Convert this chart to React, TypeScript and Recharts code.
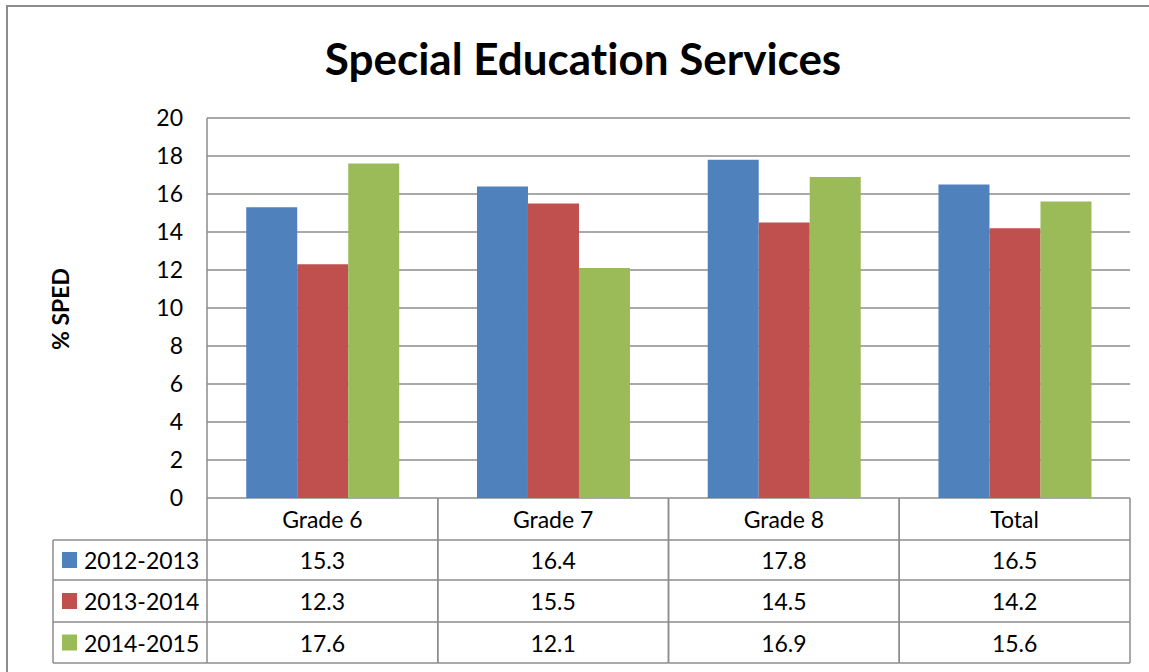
import { Bar, BarChart, CartesianGrid, XAxis, YAxis } from "recharts";

const categories = ["Grade 6", "Grade 7", "Grade 8", "Total"];
const seriesNames = ["2012-2013", "2013-2014", "2014-2015"];
const values2012 = [15.3, 16.4, 17.8, 16.5];
const values2013 = [12.3, 15.5, 14.5, 14.2];
const values2014 = [17.6, 12.1, 16.9, 15.6];
const yTicks = [0, 2, 4, 6, 8, 10, 12, 14, 16, 18, 20];

const colors = ["#4F81BD", "#C0504D", "#9BBB59"];
const seriesValues = [values2012, values2013, values2014];

const data = categories.map((c, i) => ({
  name: c,
  s0: values2012[i],
  s1: values2013[i],
  s2: values2014[i],
}));

const W = 1149;
const H = 672;
const M = { top: 118, right: 19, left: 57, bottom: 0 };
const Y_WIDTH = 150;
const PLOT_LEFT = M.left + Y_WIDTH;
const BAND = (W - M.right - PLOT_LEFT) / categories.length;
const TABLE_TOP = 498;
const ROW_LINES = [540, 580, 622, 663];
const LEGEND_LEFT = 53;
const FONT = "Lato, 'Open Sans', sans-serif";
const LINE = "#8c8c8c";
const FS = 23;

function TableTick(props: any) {
  const { x, payload, index } = props;
  const left = x - BAND / 2;
  const right = x + BAND / 2;
  const rowsMid = [
    (TABLE_TOP + ROW_LINES[0]) / 2,
    (ROW_LINES[0] + ROW_LINES[1]) / 2,
    (ROW_LINES[1] + ROW_LINES[2]) / 2,
    (ROW_LINES[2] + ROW_LINES[3]) / 2,
  ];
  return (
    <g>
      <line x1={left} x2={left} y1={TABLE_TOP} y2={ROW_LINES[3]} stroke={LINE} strokeWidth={1.5} />
      <line x1={right} x2={right} y1={TABLE_TOP} y2={ROW_LINES[3]} stroke={LINE} strokeWidth={1.5} />
      {ROW_LINES.map((ly) => (
        <line key={ly} x1={left} x2={right} y1={ly} y2={ly} stroke={LINE} strokeWidth={1.5} />
      ))}
      <text x={x} y={rowsMid[0]} textAnchor="middle" dominantBaseline="central" fontSize={FS} fontFamily={FONT} fill="#000">
        {payload.value}
      </text>
      {seriesValues.map((vals, si) => (
        <text key={si} x={x} y={rowsMid[si + 1]} textAnchor="middle" dominantBaseline="central" fontSize={FS} fontFamily={FONT} fill="#000">
          {vals[index].toFixed(1)}
        </text>
      ))}
      {index === 0 && (
        <g>
          <line x1={LEGEND_LEFT} x2={LEGEND_LEFT} y1={ROW_LINES[0]} y2={ROW_LINES[3]} stroke={LINE} strokeWidth={1.5} />
          {ROW_LINES.map((ly) => (
            <line key={ly} x1={LEGEND_LEFT} x2={left} y1={ly} y2={ly} stroke={LINE} strokeWidth={1.5} />
          ))}
          {seriesNames.map((n, si) => (
            <g key={n}>
              <rect x={62} y={rowsMid[si + 1] - 8} width={15} height={16} fill={colors[si]} />
              <text x={84} y={rowsMid[si + 1]} dominantBaseline="central" fontSize={FS} fontFamily={FONT} fill="#000">
                {n}
              </text>
            </g>
          ))}
        </g>
      )}
    </g>
  );
}

export default function App() {
  return (
    <div style={{ position: "absolute", left: 0, top: 0, width: W, height: H, overflow: "hidden", background: "#fff" }}>
      <div
        style={{
          position: "absolute",
          left: 6,
          top: 5,
          width: 1200,
          height: 700,
          border: "2px solid #8c8c8c",
        }}
      />
      <div
        style={{
          position: "absolute",
          left: 0,
          width: 1166,
          top: 30,
          textAlign: "center",
          fontFamily: FONT,
          fontWeight: 700,
          fontSize: 44,
          lineHeight: "56px",
          fontVariantLigatures: "none",
          color: "#000",
        }}
      >
        Special Education Services
      </div>
      <div
        style={{
          position: "absolute",
          left: 60,
          top: 309,
          transform: "translate(-50%, -50%) rotate(-90deg)",
          fontFamily: FONT,
          fontWeight: 700,
          fontSize: 23,
          whiteSpace: "nowrap",
          color: "#000",
        }}
      >
        % SPED
      </div>
      <div style={{ position: "absolute", left: 0, top: 0 }}>
        <BarChart width={W} height={H} data={data} margin={M} barCategoryGap="17%" barGap={0}>
          <CartesianGrid horizontal vertical={false} stroke={LINE} strokeWidth={1.5} />
          <YAxis
            width={Y_WIDTH}
            domain={[0, 20]}
            ticks={yTicks}
            interval={0}
            tickLine={false}
            axisLine={{ stroke: LINE, strokeWidth: 1.5 }}
            tickMargin={18}
            tick={{ fontSize: FS, fontFamily: FONT, fill: "#000" }}
          />
          <XAxis
            dataKey="name"
            height={174}
            axisLine={false}
            tickLine={false}
            interval={0}
            tick={<TableTick />}
          />
          {seriesNames.map((n, i) => (
            <Bar key={n} dataKey={`s${i}`} name={n} fill={colors[i]} isAnimationActive={false} />
          ))}
        </BarChart>
      </div>
    </div>
  );
}
